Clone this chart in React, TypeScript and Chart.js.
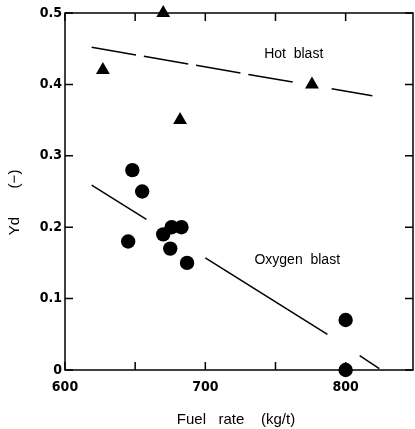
import React, { useEffect, useRef } from 'react';
import { Chart, registerables } from 'chart.js';

Chart.register(...registerables);

// Data
const hotBlastX = [627, 670, 682, 776];
const hotBlastY = [0.42, 0.5, 0.35, 0.4];
const oxygenBlastX = [645, 648, 655, 670, 676, 683, 675, 687, 800, 800];
const oxygenBlastY = [0.18, 0.28, 0.25, 0.19, 0.2, 0.2, 0.17, 0.15, 0.07, 0.0];

// Trend lines (visible pieces)
const hotLineX = [[619, 766], [790, 819]];
const hotLineY = [[0.452, 0.402], [0.394, 0.384]];
const oxyLineX = [[619, 658], [700, 787], [810, 824]];
const oxyLineY = [[0.259, 0.211], [0.157, 0.05], [0.02, 0.002]];

// Axes
const xTicks = [600, 650, 700, 750, 800];
const xTickLabels = ['600', '', '700', '', '800'];
const yTicks = [0, 0.1, 0.2, 0.3, 0.4, 0.5];
const yTickLabels = ['0', '0.1', '0.2', '0.3', '0.4', '0.5'];
const xTitle = 'Fuel   rate    (kg/t)';
const yTitleParts = ['Yd', '(−)'];

// In-plot labels
const noteTexts = ['Hot  blast', 'Oxygen  blast'];
const noteX = [763, 765.5];
const noteY = [0.437, 0.1485];

const TICK_FONT = "'Liberation Sans Narrow', 'DejaVu Sans Condensed', sans-serif";
const TEXT_FONT = "'Liberation Sans', Arial, sans-serif";

const framePlugin = {
  id: 'frame',
  afterDraw(chart: any) {
    const { ctx, chartArea: a, scales } = chart;
    const xs = scales.x;
    const ys = scales.y;
    ctx.save();
    ctx.strokeStyle = '#000';
    ctx.lineWidth = 1.5;
    ctx.strokeRect(a.left, a.top, a.right - a.left, a.bottom - a.top);
    const tl = 8;
    ctx.beginPath();
    xTicks.forEach((v) => {
      const px = xs.getPixelForValue(v);
      ctx.moveTo(px, a.bottom);
      ctx.lineTo(px, a.bottom - tl);
      ctx.moveTo(px, a.top);
      ctx.lineTo(px, a.top + tl);
    });
    yTicks.forEach((v) => {
      const py = ys.getPixelForValue(v);
      ctx.moveTo(a.left, py);
      ctx.lineTo(a.left + tl, py);
      ctx.moveTo(a.right, py);
      ctx.lineTo(a.right - tl, py);
    });
    ctx.stroke();

    ctx.fillStyle = '#000';
    ctx.font = `14px ${TEXT_FONT}`;
    ctx.textAlign = 'center';
    ctx.textBaseline = 'alphabetic';
    noteTexts.forEach((t, i) => {
      ctx.fillText(t, xs.getPixelForValue(noteX[i]), ys.getPixelForValue(noteY[i]));
    });

    // x title
    ctx.font = `15px ${TEXT_FONT}`;
    ctx.textBaseline = 'alphabetic';
    ctx.fillText(xTitle, (a.left + a.right) / 2 - 3, a.bottom + 54);

    // y title (rotated)
    ctx.font = `15px ${TEXT_FONT}`;
    ctx.textBaseline = 'middle';
    const tx = a.left - 50;
    const pos = [a.top + 213, a.top + 166];
    yTitleParts.forEach((t, i) => {
      ctx.save();
      ctx.translate(tx, pos[i]);
      ctx.rotate(-Math.PI / 2);
      ctx.fillText(t, 0, 0);
      ctx.restore();
    });
    ctx.restore();
  },
};

export default function App() {
  const ref = useRef<HTMLCanvasElement | null>(null);

  useEffect(() => {
    if (!ref.current) return;
    const datasets: any[] = [];
    hotLineX.forEach((seg, i) => {
      datasets.push({
        type: 'line',
        data: seg.map((x, j) => ({ x, y: hotLineY[i][j] })),
        borderColor: '#000',
        borderWidth: 1.5,
        borderDash: [45, 8],
        pointRadius: 0,
        showLine: true,
        fill: false,
      });
    });
    oxyLineX.forEach((seg, i) => {
      datasets.push({
        type: 'line',
        data: seg.map((x, j) => ({ x, y: oxyLineY[i][j] })),
        borderColor: '#000',
        borderWidth: 1.5,
        pointRadius: 0,
        showLine: true,
        fill: false,
      });
    });
    datasets.push({
      label: 'Hot blast',
      data: hotBlastX.map((x, i) => ({ x, y: hotBlastY[i] })),
      pointStyle: 'triangle',
      pointRadius: 8,
      backgroundColor: '#000',
      borderColor: '#000',
      borderWidth: 0,
      clip: false,
    });
    datasets.push({
      label: 'Oxygen blast',
      data: oxygenBlastX.map((x, i) => ({ x, y: oxygenBlastY[i] })),
      pointStyle: 'circle',
      pointRadius: 7.2,
      backgroundColor: '#000',
      borderColor: '#000',
      borderWidth: 0,
      clip: false,
    });

    const chart = new Chart(ref.current, {
      type: 'scatter',
      data: { datasets },
      options: {
        animation: false,
        responsive: false,
        devicePixelRatio: 1,
        layout: { autoPadding: false, padding: { top: 13, right: 2, left: 0, bottom: 0 } },
        plugins: {
          legend: { display: false },
          tooltip: { enabled: false },
        },
        scales: {
          x: {
            type: 'linear',
            min: 600,
            max: 848,
            grid: { display: false, drawTicks: false },
            border: { display: false },
            afterBuildTicks: (s: any) => {
              s.ticks = xTicks.map((v) => ({ value: v }));
            },
            afterFit: (s: any) => {
              s.height = 59;
              s.paddingLeft = 0;
              s.paddingRight = 0;
            },
            ticks: {
              padding: 9,
              color: '#000',
              maxRotation: 0,
              autoSkip: false,
              font: { family: TICK_FONT, size: 14, weight: 'bold' },
              callback: (_v: any, i: number) => xTickLabels[i],
            },
          },
          y: {
            type: 'linear',
            min: 0,
            max: 0.5,
            grid: { display: false, drawTicks: false },
            border: { display: false },
            afterBuildTicks: (s: any) => {
              s.ticks = yTicks.map((v) => ({ value: v }));
            },
            afterFit: (s: any) => {
              s.width = 65;
              s.paddingTop = 0;
              s.paddingBottom = 0;
            },
            ticks: {
              padding: 3,
              color: '#000',
              autoSkip: false,
              font: { family: TICK_FONT, size: 14, weight: 'bold' },
              callback: (_v: any, i: number) => yTickLabels[i],
            },
          },
        },
      },
      plugins: [framePlugin],
    } as any);
    return () => chart.destroy();
  }, []);

  return (
    <div style={{ position: 'absolute', left: 0, top: 0, width: 415, height: 429, background: '#fff' }}>
      <canvas ref={ref} width={415} height={429} />
    </div>
  );
}
